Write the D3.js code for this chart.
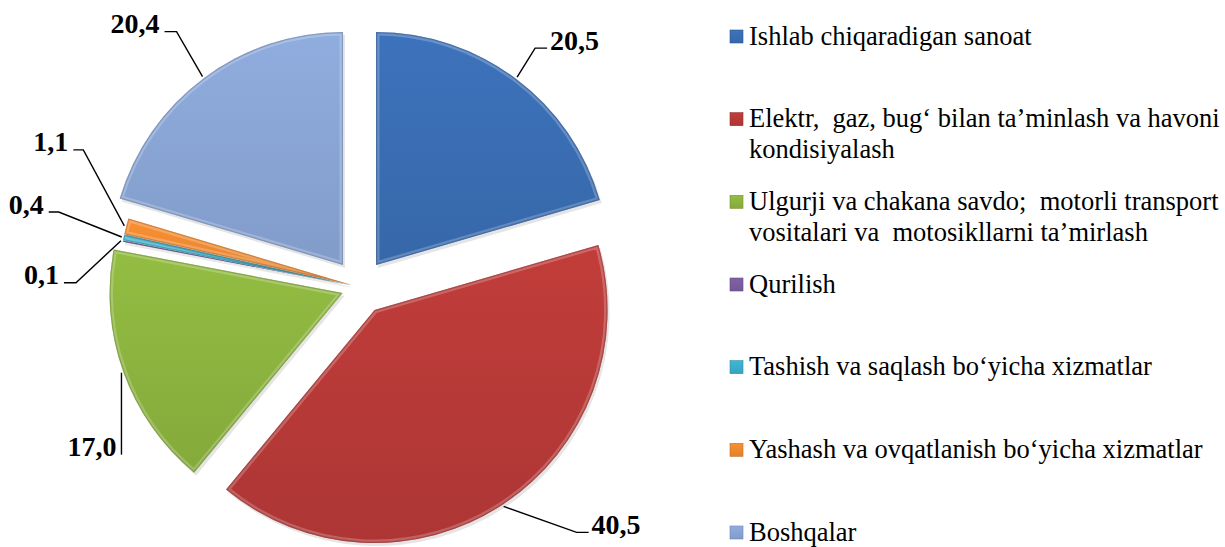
<!DOCTYPE html>
<html>
<head>
<meta charset="utf-8">
<script src="https://cdn.jsdelivr.net/npm/d3@7"></script>
<style>
  html, body { margin: 0; padding: 0; background: #fff; }
  #chart { position: relative; width: 1225px; height: 547px; overflow: hidden; }
  #chart svg { display: block; position: absolute; left: 0; top: 0; }
  .txt { position: absolute; font-family: 'Liberation Serif', 'Times New Roman', serif; line-height: 1; white-space: pre; color: #000; }
</style>
</head>
<body>
<div id="chart"></div>
<script>
const categories = [
  'Ishlab chiqaradigan sanoat',
  'Elektr,  gaz, bug‘ bilan ta’minlash va havoni kondisiyalash',
  'Ulgurji va chakana savdo;  motorli transport vositalari va  motosikllarni ta’mirlash',
  'Qurilish',
  'Tashish va saqlash bo‘yicha xizmatlar',
  'Yashash va ovqatlanish bo‘yicha xizmatlar',
  'Boshqalar'
]
const legendLines = [
  ['Ishlab chiqaradigan sanoat'],
  ['Elektr,  gaz, bug‘ bilan ta’minlash va havoni', 'kondisiyalash'],
  ['Ulgurji va chakana savdo;  motorli transport', 'vositalari va  motosikllarni ta’mirlash'],
  ['Qurilish'],
  ['Tashish va saqlash bo‘yicha xizmatlar'],
  ['Yashash va ovqatlanish bo‘yicha xizmatlar'],
  ['Boshqalar']
]
const values = [20.5, 40.5, 17.0, 0.1, 0.4, 1.1, 20.4]

// styling
const colors = ['#3a6eb4', '#b93a38', '#8db53f', '#7b5ea0', '#3aafcc', '#f08a30', '#8aa6d6']
const explode = [27.5, 27.5, 18, 8, 8, 8, 27.5]
// leader elbow offset from the slice edge, and length of the short horizontal tick
const leaderElbow = [[18, -29], [73, 26], [0, 82], [-45, 42], [-63, -25], [-41, -76], [-26, -45]]
const leaderTick = [12, 12, 0, 12, 10, 10, 12]

const W = 1225, H = 547
const CX = 359.5, CY = 287, R = 233
const BASE = 0.8375 // baseline position inside a line-height:1 box

const root = d3.select('#chart')
const svg = root.append('svg').attr('width', W).attr('height', H)
const defs = svg.append('defs')

// text as html, placed by its baseline
function addText(x, baseline, str, size, anchor, bold) {
  const t = root.append('div').attr('class', 'txt')
    .style('font-size', size + 'px')
    .style('font-weight', bold ? 'bold' : 'normal')
    .style('top', (baseline - BASE * size) + 'px')
    .text(str)
  if (anchor === 'end') t.style('right', (W - x) + 'px')
  else t.style('left', x + 'px')
}

colors.forEach((c, i) => {
  const g = defs.append('linearGradient').attr('id', 'grad' + i)
    .attr('x1', 0).attr('y1', 0).attr('x2', 0).attr('y2', 1)
  g.append('stop').attr('offset', '0%').attr('stop-color', d3.color(c).brighter(0.12))
  g.append('stop').attr('offset', '100%').attr('stop-color', d3.color(c).darker(0.18))
})

const pie = d3.pie().sort(null).value(d => d)
const arcs = pie(values)
const arc = d3.arc().innerRadius(0).outerRadius(R)

const offsetOf = (a, d) => {
  const m = (a.startAngle + a.endAngle) / 2
  return [d * Math.sin(m), -d * Math.cos(m)]
}

const pieG = svg.append('g').attr('transform', `translate(${CX},${CY})`)
const slices = pieG.selectAll('g.slice').data(arcs).join('g').attr('class', 'slice')
  .attr('transform', (a, i) => { const [dx, dy] = offsetOf(a, explode[i]); return `translate(${dx},${dy})` })

slices.each(function (a, i) {
  const g = d3.select(this)
  defs.append('clipPath').attr('id', 'clip' + i).append('path').attr('d', arc(a))
  // soft shadow
  g.append('path').attr('d', arc(a)).attr('transform', 'translate(2,3)')
    .attr('fill', '#000').attr('opacity', 0.1)
  g.append('path').attr('d', arc(a)).attr('fill', `url(#grad${i})`)
  // bevel rim: light inner edge, dark outline
  g.append('path').attr('d', arc(a)).attr('clip-path', `url(#clip${i})`)
    .attr('fill', 'none').attr('stroke', '#fff').attr('stroke-opacity', 0.22).attr('stroke-width', 7)
  g.append('path').attr('d', arc(a)).attr('clip-path', `url(#clip${i})`)
    .attr('fill', 'none').attr('stroke', d3.color(colors[i]).darker(0.9)).attr('stroke-opacity', 0.5).attr('stroke-width', 2.5)
})

// data labels with leader lines
const fmt = v => d3.format('.1f')(v).replace('.', ',')
const labelG = svg.append('g')
arcs.forEach((a, i) => {
  const [ox, oy] = offsetOf(a, explode[i])
  const m = (a.startAngle + a.endAngle) / 2
  const ax = CX + ox + (R + 2) * Math.sin(m)
  const ay = CY + oy - (R + 2) * Math.cos(m)
  const ex = ax + leaderElbow[i][0], ey = ay + leaderElbow[i][1]
  const right = leaderElbow[i][0] > 0
  const tx = right ? ex + leaderTick[i] : ex - leaderTick[i]
  labelG.append('path')
    .attr('d', d3.line()([[ax, ay], [ex, ey], [tx, ey]]))
    .attr('fill', 'none').attr('stroke', '#000').attr('stroke-width', 1.4)
  addText(right ? tx + 3 : tx - 5, ey + 2, fmt(values[i]), 28, right ? 'start' : 'end', true)
})

// legend
const legend = svg.append('g')
const legendY = d3.scalePoint().domain(d3.range(categories.length)).range([45, 541])
categories.forEach((c, i) => {
  const y = legendY(i)
  legend.append('rect').attr('x', 730).attr('y', y - 15).attr('width', 13).attr('height', 13)
    .attr('fill', `url(#grad${i})`).attr('stroke', d3.color(colors[i]).darker(0.6)).attr('stroke-width', 0.6)
  legendLines[i].forEach((ln, j) => addText(749, y + j * 31, ln, 26.5, 'start', false))
})
</script>
</body>
</html>
